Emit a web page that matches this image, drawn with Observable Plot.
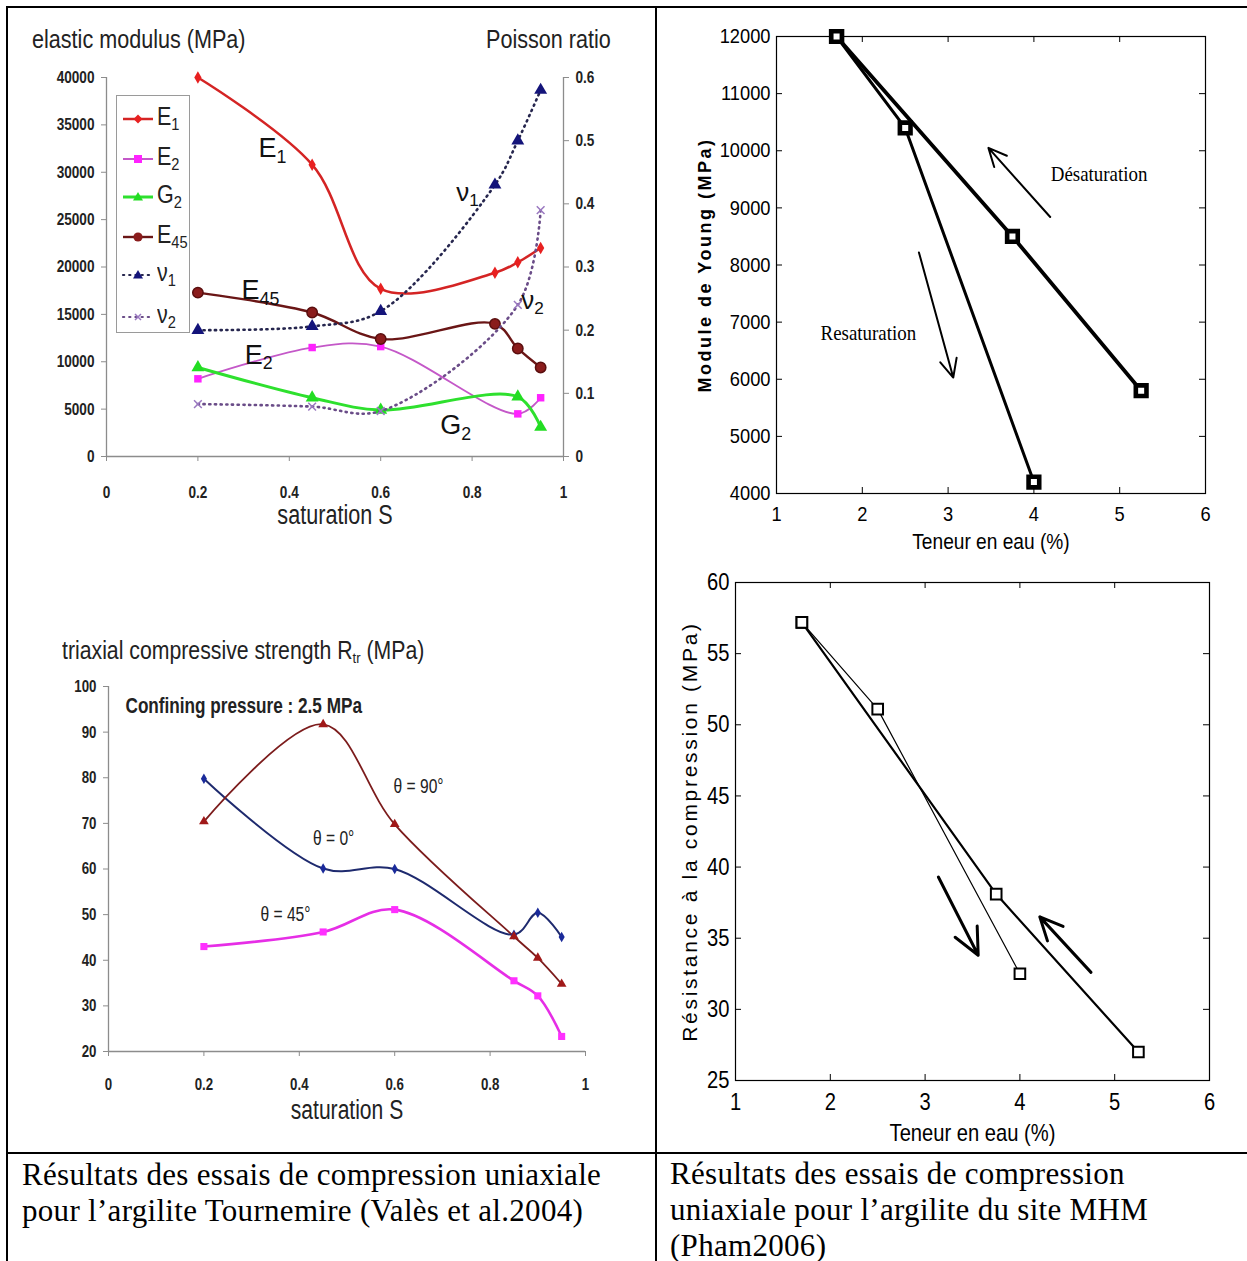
<!DOCTYPE html>
<html><head><meta charset="utf-8">
<script src="https://cdn.jsdelivr.net/npm/d3@7"></script>
<script src="https://cdn.jsdelivr.net/npm/@observablehq/plot@0.6"></script>
<style>
html,body{margin:0;padding:0;background:#fff;}
#page{position:relative;width:1247px;height:1261px;overflow:hidden;background:#fff;}
.cap{position:absolute;font-family:"Liberation Serif","Times New Roman",serif;font-size:31px;letter-spacing:0.3px;line-height:36px;color:#000;white-space:nowrap;}
.lg{position:absolute;left:6px;display:flex;align-items:center;height:30px;}
.lg span{font-size:25px;color:#222;margin-left:2px;display:inline-block;transform:scaleX(0.86);transform-origin:left center;}
.lg sub{font-size:0.68em;vertical-align:-0.3em;}
.cond{display:inline-block;transform-origin:left center;}
</style></head><body><div id="page"></div>
<script>
// ---------- DATA ----------
// Top-left: elastic modulus & Poisson ratio vs saturation (Valès et al. 2004)
const sat = [0.2, 0.45, 0.6, 0.85, 0.9, 0.95];
const E1  = [40000, 30800, 17700, 19400, 20500, 22000];
const E2  = [8200, 11500, 11600, null, 4500, 6200];
const G2  = [9400, 6200, 4900, null, 6300, 3100];
const E45 = [17300, 15200, 12400, 14000, 11400, 9400];
const nu1 = [0.20, 0.206, 0.23, 0.43, 0.50, 0.58];
const nu2 = [0.083, 0.079, 0.072, null, 0.24, 0.39];
const satTicks = [0, 0.2, 0.4, 0.6, 0.8, 1];
const eTicks = [0, 5000, 10000, 15000, 20000, 25000, 30000, 35000, 40000];
const nuTicks = [0, 0.1, 0.2, 0.3, 0.4, 0.5, 0.6];
const eLabels = [["E_1", 0.363, 32500], ["E_45", 0.337, 17500], ["E_2", 0.333, 10700], ["G_2", 0.764, 3300]];
const nuLabels = [["ν_1", 0.79, 0.418], ["ν_2", 0.932, 0.247]];

// Bottom-left: triaxial compressive strength
const R0  = [79.8, 60.1, 60.0, 45.6, 50.4, 45.1];
const R45 = [43.0, 46.2, 51.1, 35.5, 32.2, 23.3];
const R90 = [70.4, 91.7, 69.8, 45.2, 40.5, 34.8];
const rTicks = [20, 30, 40, 50, 60, 70, 80, 90, 100];
const rLabels = [["θ = 90°", 0.65, 78.1], ["θ = 0°", 0.472, 66.7], ["θ = 45°", 0.371, 50.0]];

// Top-right: Young modulus vs water content (Pham 2006)
const wDes = [1.7, 3.75, 5.25];
const youngDes = [12000, 8500, 5800];
const wRes = [1.7, 2.5, 4.0];
const youngRes = [12000, 10400, 4200];
const wTicks = [1, 2, 3, 4, 5, 6];
const wInner = [2, 3, 4, 5];
const youngTicks = [4000, 5000, 6000, 7000, 8000, 9000, 10000, 11000, 12000];
const youngInner = [5000, 6000, 7000, 8000, 9000, 10000, 11000];
const youngArrows = [[4.19, 8840, 3.47, 10050], [2.66, 8220, 3.06, 6030]];
const youngNotes = [["Désaturation", 4.76, 9580], ["Resaturation", 2.07, 6810]];

// Bottom-right: compressive strength vs water content
const strDes = [57.2, 38.1, 27.0];
const strRes = [57.2, 51.1, 32.5];
const strTicks = [25, 30, 35, 40, 45, 50, 55, 60];
const strInner = [30, 35, 40, 45, 50, 55];
const strArrows = [[3.14, 39.3, 3.56, 33.8], [4.75, 32.6, 4.21, 36.5]];

// ---------- HELPERS ----------
const SANS = '"Liberation Sans",Arial,Helvetica,sans-serif';
const SERIF = '"Liberation Serif","Times New Roman",serif';
const GRAY = "#8c8c8c";
const NS = "http://www.w3.org/2000/svg";
const page = document.getElementById("page");

const ser = (xs, ys) => xs.map((x, i) => ({x, y: ys[i]})).filter(d => d.y != null);
const lab = (arr) => arr.map(([t, x, y]) => ({t, x, y}));
const arr = (a) => a.map(([x1, y1, x2, y2]) => ({x1, y1, x2, y2}));

function subify(svg) {
  svg.querySelectorAll("text").forEach(t => {
    if (t.children.length) return;
    const m = t.textContent.match(/^(.*?)_(\S+)$/);
    if (!m) return;
    t.textContent = "";
    const a = document.createElementNS(NS, "tspan"); a.textContent = m[1]; t.appendChild(a);
    const b = document.createElementNS(NS, "tspan"); b.textContent = m[2];
    b.setAttribute("dy", "0.32em"); b.setAttribute("font-size", "0.66em"); t.appendChild(b);
  });
}
// horizontally condense SVG texts (the reference uses a narrow face)
function condense(svg, factor, serifFactor) {
  svg.querySelectorAll("text").forEach(t => {
    const s = t.textContent;
    if (t.children.length) return;
    if (s.startsWith("Module") || s.startsWith("Résistance")) return;
    const g = t.closest("[font-family]");
    const fam = g ? g.getAttribute("font-family") : "";
    const f = /Serif/.test(fam) ? serifFactor : factor;
    const w = t.getComputedTextLength();
    if (w > 0) { t.setAttribute("textLength", (w * f).toFixed(2)); t.setAttribute("lengthAdjust", "spacingAndGlyphs"); }
  });
}
function put(node, left, top, factor, serifFactor) {
  node.style.position = "absolute"; node.style.left = left + "px"; node.style.top = top + "px";
  node.style.maxWidth = "none"; page.appendChild(node); subify(node);
  condense(node, factor, serifFactor || factor); return node;
}
function html(str, left, top, css) {
  const d = document.createElement("div"); d.innerHTML = str;
  d.style.cssText = `position:absolute;left:${left}px;top:${top}px;white-space:nowrap;${css || ""}`;
  page.appendChild(d); return d;
}
const st = (size) => ({fontFamily: SANS, fontSize: size + "px", color: "#1a1a1a", background: "transparent", overflow: "visible"});

// ---------- TOP-LEFT: elastic modulus ----------
const tlDims = {width: 640, height: 540, marginLeft: 96, marginRight: 87, marginTop: 67, marginBottom: 94};
const tlE = Plot.plot({
  ...tlDims,
  style: st(17),
  x: {domain: [0, 1]},
  y: {domain: [0, 40000]},
  marks: [
    Plot.ruleX([0], {stroke: GRAY, strokeWidth: 1.3}),
    Plot.ruleY([0], {stroke: GRAY, strokeWidth: 1.6}),
    Plot.axisY(eTicks, {tickSize: 5, tickPadding: 7, stroke: GRAY, fill: "#222", fontWeight: "bold", tickFormat: d => String(d), label: null}),
    Plot.axisX(satTicks, {tickSize: 5, tickPadding: 24, stroke: GRAY, fill: "#222", fontWeight: "bold", tickFormat: d => String(d), label: null}),
    Plot.text(["saturation S"], {frameAnchor: "bottom", dy: 67, fontSize: 27, fill: "#222"}),
    Plot.line(ser(sat, E2), {x: "x", y: "y", curve: "catmull-rom", stroke: "#c458c8", strokeWidth: 1.8}),
    Plot.line(ser(sat, G2), {x: "x", y: "y", curve: "catmull-rom", stroke: "#2ee02e", strokeWidth: 3}),
    Plot.line(ser(sat, E45), {x: "x", y: "y", curve: "catmull-rom", stroke: "#6a1616", strokeWidth: 2.4}),
    Plot.line(ser(sat, E1), {x: "x", y: "y", curve: "catmull-rom", stroke: "#d42424", strokeWidth: 2.5}),
    Plot.dot(ser(sat, E2), {x: "x", y: "y", symbol: "square", r: 4.2, fill: "#ff22ff"}),
    Plot.dot(ser(sat, G2), {x: "x", y: "y", symbol: "triangle", r: 4.8, fill: "#22dd22"}),
    Plot.dot(ser(sat, E45), {x: "x", y: "y", symbol: "circle", r: 5.2, fill: "#8a1c1c", stroke: "#5a0e0e"}),
    Plot.dot(ser(sat, E1), {x: "x", y: "y", symbol: "diamond", r: 3.8, fill: "#e82020"}),
    Plot.text(lab(eLabels), {x: "x", y: "y", text: "t", fontSize: 27, fill: "#111"})
  ]
});
put(tlE, 10, 10, 0.8);

const tlNu = Plot.plot({
  ...tlDims,
  style: st(17),
  x: {domain: [0, 1], axis: null},
  y: {domain: [0, 0.6]},
  marks: [
    Plot.ruleX([1], {stroke: GRAY, strokeWidth: 1.3}),
    Plot.axisY(nuTicks, {anchor: "right", tickSize: 5, tickPadding: 7, stroke: GRAY, fill: "#222", fontWeight: "bold", tickFormat: d => String(+d.toFixed(1)), label: null}),
    Plot.line(ser(sat, nu2), {x: "x", y: "y", curve: "catmull-rom", stroke: "#6a4c88", strokeWidth: 2.6, strokeDasharray: "1.2,4.5", strokeLinecap: "round"}),
    Plot.line(ser(sat, nu1), {x: "x", y: "y", curve: "catmull-rom", stroke: "#26264e", strokeWidth: 2.6, strokeDasharray: "1.2,4.5", strokeLinecap: "round"}),
    Plot.dot(ser(sat, nu1), {x: "x", y: "y", symbol: "triangle", r: 4.8, fill: "#14147a"}),
    Plot.dot(ser(sat, nu2), {x: "x", y: "y", symbol: "times", r: 3.6, stroke: "#9a78c0", strokeWidth: 1.5}),
    Plot.text(lab(nuLabels), {x: "x", y: "y", text: "t", fontSize: 26, fill: "#111"})
  ]
});
put(tlNu, 10, 10, 0.8);

html(`<span class="cond" style="transform:scaleX(0.83)">elastic modulus (MPa)</span>`, 32, 24, `font-family:${SANS};font-size:26px;color:#222;`);
html(`<span class="cond" style="transform:scaleX(0.83)">Poisson ratio</span>`, 486, 24, `font-family:${SANS};font-size:26px;color:#222;`);

// legend (key only)
const sw = (stroke, w, dash, sym) =>
  `<svg width="32" height="20" style="overflow:visible"><line x1="0" x2="30" y1="10" y2="10" stroke="${stroke}" stroke-width="${w}" ${dash ? `stroke-dasharray="${dash}" stroke-linecap="round"` : ""}/>${sym}</svg>`;
html(
  `<div class="lg" style="top:8px">${sw("#d42424", 2.5, null, '<path d="M15,5.5L19.5,10L15,14.5L10.5,10Z" fill="#e82020"/>')}<span>E<sub>1</sub></span></div>
   <div class="lg" style="top:48px">${sw("#c458c8", 2, null, '<rect x="11" y="6" width="8" height="8" fill="#ff22ff"/>')}<span>E<sub>2</sub></span></div>
   <div class="lg" style="top:86px">${sw("#2ee02e", 3, null, '<path d="M15,5L20,13.5L10,13.5Z" fill="#22dd22"/>')}<span>G<sub>2</sub></span></div>
   <div class="lg" style="top:126px">${sw("#6a1616", 2.4, null, '<circle cx="15" cy="10" r="4.6" fill="#8a1c1c"/>')}<span>E<sub>45</sub></span></div>
   <div class="lg" style="top:164px">${sw("#26264e", 2.2, "1.2,5", '<path d="M15,5L20,13.5L10,13.5Z" fill="#14147a"/>')}<span style="font-family:${SERIF};color:#333">ν<sub>1</sub></span></div>
   <div class="lg" style="top:206px">${sw("#6a4c88", 2.2, "1.2,5", '<path d="M12,7L18,13M18,7L12,13" stroke="#9a78c0" stroke-width="1.5"/>')}<span style="font-family:${SERIF};color:#555">ν<sub>2</sub></span></div>`,
  116, 95, `width:72px;height:236px;border:1px solid #9a9a9a;background:#fff;font-family:${SANS};`);

// ---------- BOTTOM-LEFT: triaxial strength ----------
const bl = Plot.plot({
  width: 640, height: 590, marginLeft: 98, marginRight: 65, marginTop: 126, marginBottom: 99,
  style: st(17),
  x: {domain: [0, 1]},
  y: {domain: [20, 100]},
  marks: [
    Plot.ruleX([0], {stroke: GRAY, strokeWidth: 1.3}),
    Plot.ruleY([20], {stroke: GRAY, strokeWidth: 1.6}),
    Plot.axisY(rTicks, {tickSize: 5, tickPadding: 7, stroke: GRAY, fill: "#222", fontWeight: "bold", tickFormat: d => String(d), label: null}),
    Plot.axisX(satTicks, {tickSize: 5, tickPadding: 21, stroke: GRAY, fill: "#222", fontWeight: "bold", tickFormat: d => String(d), label: null}),
    Plot.text(["saturation S"], {frameAnchor: "bottom", dy: 67, fontSize: 27, fill: "#222"}),
    Plot.text(["Confining pressure : 2.5 MPa"], {frameAnchor: "top-left", dx: 17, dy: 11, fontSize: 22, fontWeight: "bold", fill: "#222", textAnchor: "start"}),
    Plot.line(ser(sat, R45), {x: "x", y: "y", curve: "catmull-rom", stroke: "#e62ee6", strokeWidth: 2.6}),
    Plot.line(ser(sat, R0), {x: "x", y: "y", curve: "catmull-rom", stroke: "#1e2a6e", strokeWidth: 2}),
    Plot.line(ser(sat, R90), {x: "x", y: "y", curve: "catmull-rom", stroke: "#7c1c1c", strokeWidth: 1.8}),
    Plot.dot(ser(sat, R45), {x: "x", y: "y", symbol: "square", r: 4, fill: "#ff30ff"}),
    Plot.dot(ser(sat, R0), {x: "x", y: "y", symbol: "diamond", r: 3.2, fill: "#1a2a9a"}),
    Plot.dot(ser(sat, R90), {x: "x", y: "y", symbol: "triangle", r: 3.6, fill: "#a01818"}),
    Plot.text(lab(rLabels), {x: "x", y: "y", text: "t", fontSize: 20, fill: "#222"})
  ]
});
put(bl, 10, 560, 0.78);
html(`<span class="cond" style="transform:scaleX(0.85)">triaxial compressive strength R<sub style="font-size:0.62em;vertical-align:-0.25em">tr</sub> (MPa)</span>`, 62, 636, `font-family:${SANS};font-size:25px;color:#222;`);

// ---------- TOP-RIGHT: Young modulus ----------
const trW = 585, trH = 555, trML = 116, trMR = 40, trMT = 26, trMB = 72;
const trPW = trW - trML - trMR, trPH = trH - trMT - trMB;
const tr = Plot.plot({
  width: trW, height: trH, marginLeft: trML, marginRight: trMR, marginTop: trMT, marginBottom: trMB,
  style: st(22),
  x: {domain: [1, 6]},
  y: {domain: [4000, 12000]},
  marks: [
    Plot.frame({stroke: "#000", strokeWidth: 1.2}),
    Plot.ruleX(wInner, {insetTop: trPH - 6, stroke: "#000"}),
    Plot.ruleX(wInner, {insetBottom: trPH - 6, stroke: "#000"}),
    Plot.ruleY(youngInner, {insetRight: trPW - 6, stroke: "#000"}),
    Plot.ruleY(youngInner, {insetLeft: trPW - 6, stroke: "#000"}),
    Plot.axisX(wTicks, {tickSize: 0, tickPadding: 13, fontSize: 21, fill: "#000", tickFormat: d => String(d), label: null}),
    Plot.axisY(youngTicks, {tickSize: 0, tickPadding: 6, fontSize: 21, fill: "#000", tickFormat: d => String(d), label: null}),
    Plot.text(["Teneur en eau (%)"], {frameAnchor: "bottom", dy: 55, fontSize: 22, fill: "#000"}),
    Plot.text(["Module de Young (MPa)"], {frameAnchor: "left", dx: -71, rotate: -90, textAnchor: "middle", fontSize: 18, fontWeight: "bold", fill: "#000"}),
    Plot.line(ser(wRes, youngRes), {x: "x", y: "y", stroke: "#000", strokeWidth: 3}),
    Plot.line(ser(wDes, youngDes), {x: "x", y: "y", stroke: "#000", strokeWidth: 3.8}),
    Plot.dot(ser(wRes, youngRes), {x: "x", y: "y", symbol: "square", r: 6, stroke: "#000", strokeWidth: 4.6, fill: "#fff"}),
    Plot.dot(ser(wDes, youngDes), {x: "x", y: "y", symbol: "square", r: 6, stroke: "#000", strokeWidth: 4.6, fill: "#fff"}),
    Plot.arrow(arr(youngArrows), {x1: "x1", y1: "y1", x2: "x2", y2: "y2", stroke: "#000", strokeWidth: 2, headLength: 15, headAngle: 50}),
    Plot.text(lab(youngNotes), {x: "x", y: "y", text: "t", fontFamily: SERIF, fontSize: 21, fill: "#000"})
  ]
});
put(tr, 660, 10, 0.87, 0.9);

// ---------- BOTTOM-RIGHT: compressive strength ----------
const brW = 585, brH = 590, brML = 75, brMR = 36, brMT = 17, brMB = 75;
const brPW = brW - brML - brMR, brPH = brH - brMT - brMB;
const br = Plot.plot({
  width: brW, height: brH, marginLeft: brML, marginRight: brMR, marginTop: brMT, marginBottom: brMB,
  style: st(24),
  x: {domain: [1, 6]},
  y: {domain: [25, 60]},
  marks: [
    Plot.frame({stroke: "#000", strokeWidth: 1.2}),
    Plot.ruleX(wInner, {insetTop: brPH - 6, stroke: "#000"}),
    Plot.ruleX(wInner, {insetBottom: brPH - 6, stroke: "#000"}),
    Plot.ruleY(strInner, {insetRight: brPW - 6, stroke: "#000"}),
    Plot.ruleY(strInner, {insetLeft: brPW - 6, stroke: "#000"}),
    Plot.axisX(wTicks, {tickSize: 0, tickPadding: 12, fill: "#000", tickFormat: d => String(d), label: null}),
    Plot.axisY(strTicks, {tickSize: 0, tickPadding: 6, fill: "#000", tickFormat: d => String(d), label: null}),
    Plot.text(["Teneur en eau (%)"], {frameAnchor: "bottom", dy: 60, fontSize: 24, fill: "#000"}),
    Plot.text(["Résistance à la compression (MPa)"], {frameAnchor: "left", dx: -45, rotate: -90, textAnchor: "middle", fontSize: 21, fill: "#000"}),
    Plot.line(ser(wRes, strRes), {x: "x", y: "y", stroke: "#000", strokeWidth: 1.2}),
    Plot.line(ser(wDes, strDes), {x: "x", y: "y", stroke: "#000", strokeWidth: 2.2}),
    Plot.dot(ser(wRes, strRes), {x: "x", y: "y", symbol: "square", r: 6, stroke: "#000", strokeWidth: 2, fill: "#fff"}),
    Plot.dot(ser(wDes, strDes), {x: "x", y: "y", symbol: "square", r: 6, stroke: "#000", strokeWidth: 2, fill: "#fff"}),
    Plot.arrow(arr(strArrows), {x1: "x1", y1: "y1", x2: "x2", y2: "y2", stroke: "#000", strokeWidth: 3, headLength: 16, headAngle: 50})
  ]
});
put(br, 660, 565, 0.84);

// letter spacing for rotated titles
[tr, br].forEach(s => s.querySelectorAll("text").forEach(t => {
  if (t.textContent.startsWith("Module")) t.setAttribute("letter-spacing", "2.5");
  if (t.textContent.startsWith("Résistance")) t.setAttribute("letter-spacing", "2.7");
}));

// ---------- TABLE BORDERS & CAPTIONS ----------
const line = (l, t, w, h) => html("", l, t, `width:${w}px;height:${h}px;background:#000;`);
line(6, 6, 1241, 2);
line(6, 6, 2, 1255);
line(655, 6, 2, 1255);
line(6, 1152, 1241, 2);

const c1 = html("Résultats des essais de compression uniaxiale<br>pour l’argilite Tournemire (Valès et al.2004)", 22, 1157, "");
c1.className = "cap"; c1.style.left = "22px"; c1.style.top = "1157px";
const c2 = html("Résultats des essais de compression<br>uniaxiale pour l’argilite du site MHM<br>(Pham2006)", 670, 1157, "");
c2.className = "cap"; c2.style.left = "670px"; c2.style.top = "1156px";
</script></body></html>
